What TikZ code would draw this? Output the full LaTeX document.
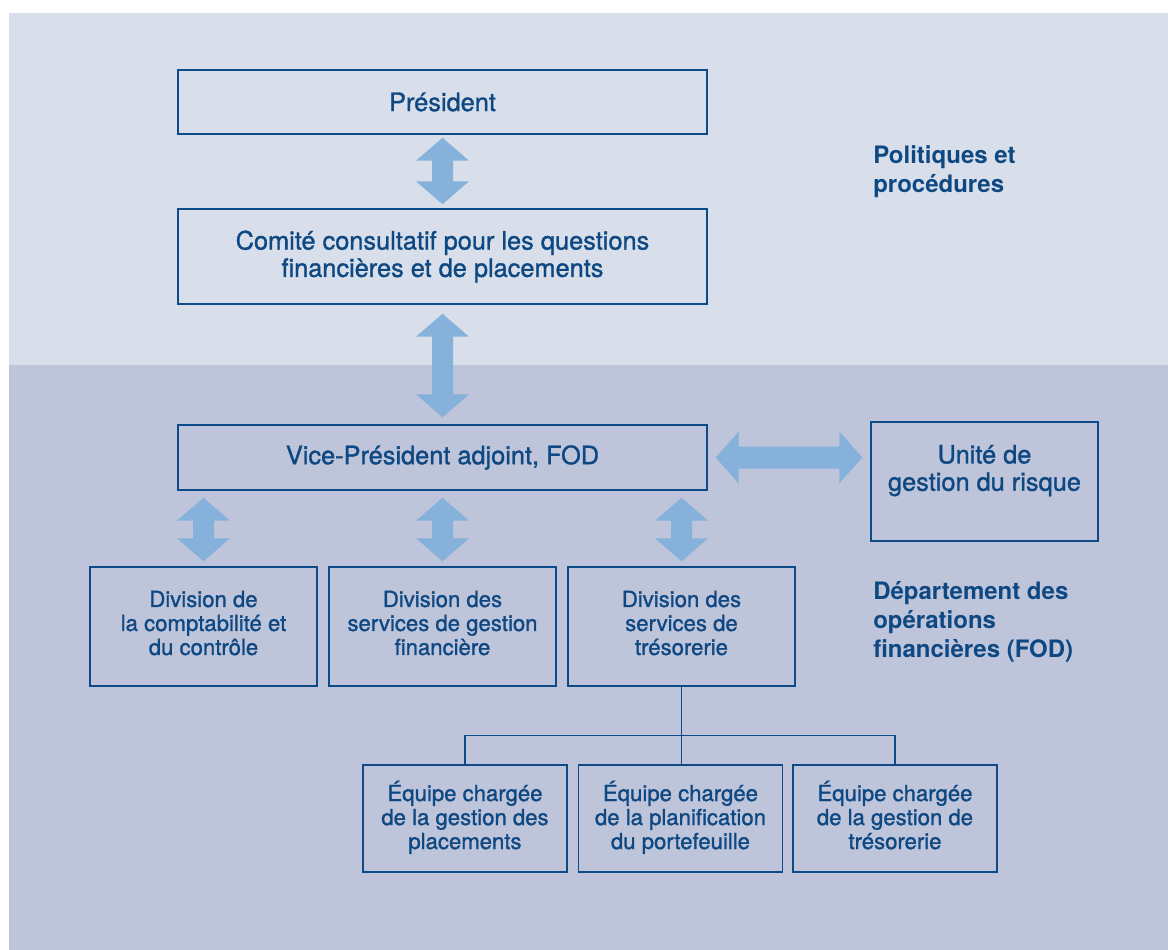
\documentclass[tikz,border=0pt]{standalone}
\usepackage{fontspec}
\setmainfont{TeX Gyre Heros}
\newfontfamily\medfont{TeX Gyre Heros}[FakeBold=1.2]
\usetikzlibrary{calc}
\definecolor{bgtop}{RGB}{217,223,234}
\definecolor{bgbot}{RGB}{190,196,218}
\definecolor{boxline}{RGB}{12,74,136}
\definecolor{txt}{RGB}{14,72,130}
\definecolor{arr}{RGB}{133,177,218}
\newcommand\vdarrow[2]{\fill[arr] (#1) -- ++(26.5,23) -- ++(-16,0) -- ($(#2)+(10.5,-23)$) -- ++(16,0) -- (#2) -- ++(-26.5,-23) -- ++(16,0) -- ($(#1)+(-10.5,23)$) -- ++(-16,0) -- cycle;}
\newcommand\hdarrow[2]{\fill[arr] (#1) -- ++(23,-26) -- ++(0,15) -- ($(#2)+(-23,-11)$) -- ++(0,-15) -- (#2) -- ++(-23,26) -- ++(0,-15) -- ($(#1)+(23,11)$) -- ++(0,15) -- cycle;}
\begin{document}
\begin{tikzpicture}[x=0.75pt,y=-0.75pt,
  box/.style={draw=boxline,line width=1.1pt,text=txt,align=center,inner sep=0pt,
    font=\medfont\fontsize{19}{20.5}\selectfont},
  mainbox/.style={box,minimum width=396.75pt},
  sbox/.style={box,font=\medfont\fontsize{16.6}{18}\selectfont},
  divbox/.style={sbox,minimum width=170.25pt,minimum height=89.25pt},
  teambox/.style={sbox,minimum width=153pt,minimum height=80.25pt},
  label/.style={text=txt,align=left,anchor=west,inner sep=0pt,
    font=\fontsize{18}{21.5}\selectfont\bfseries},
  tree/.style={draw=boxline,line width=0.8pt}]
\useasboundingbox (0,0) rectangle (1168,950);
\fill[bgtop] (9,13) rectangle (1168,365);
\fill[bgbot] (9,365) rectangle (1168,950);

\node[mainbox,minimum height=48pt] (pres) at (442.5,102) {Président};
\node[mainbox,minimum height=71.25pt] (comite) at (442.5,256.5)
  {Comité consultatif pour les questions\\financières et de placements};
\node[mainbox,minimum height=48.75pt] (vp) at (442.5,457.5) {Vice-Président adjoint, FOD};
\node[box,minimum width=170.25pt,minimum height=89.25pt] (unite) at (984.5,481.5)
  {Unité de\\gestion du risque\\\mbox{}};

\node[divbox] (d1) at (203.5,626.5) {Division de\\la comptabilité et\\du contrôle\strut};
\node[divbox] (d2) at (442.5,626.5) {Division des\\services de gestion\\financière\strut};
\node[divbox] (d3) at (681.5,626.5) {Division des\\services de\\trésorerie\strut};

\node[teambox] (t1) at (465,818.5) {Équipe chargée\\de la gestion des\\placements\strut};
\node[teambox] (t2) at (680.5,818.5) {Équipe chargée\\de la planification\\du portefeuille\strut};
\node[teambox] (t3) at (895,818.5) {Équipe chargée\\de la gestion de\\trésorerie\strut};

\node[label] (pol) at (873,171.5) {Politiques et\\procédures};
\node[label] (dep) at (873,622) {Département des\\opérations\\financières (FOD)};

% arrows
\coordinate (a1t) at ($(pres.south)+(0,3)$);
\coordinate (a1b) at ($(comite.north)+(0,-4)$);
\vdarrow{a1t}{a1b}
\coordinate (a2t) at ($(comite.south)+(0,9)$);
\coordinate (a2b) at ($(vp.north)+(0,-7)$);
\vdarrow{a2t}{a2b}
\coordinate (a3t) at ($(vp.south -| d1.north)+(0,7)$);
\coordinate (a3b) at ($(d1.north)+(0,-5)$);
\vdarrow{a3t}{a3b}
\coordinate (a4t) at ($(vp.south -| d2.north)+(0,7)$);
\coordinate (a4b) at ($(d2.north)+(0,-5)$);
\vdarrow{a4t}{a4b}
\coordinate (a5t) at ($(vp.south -| d3.north)+(0,7)$);
\coordinate (a5b) at ($(d3.north)+(0,-5)$);
\vdarrow{a5t}{a5b}
\coordinate (hl) at ($(vp.east)+(8,0)$);
\coordinate (hr) at ($(vp.east -| unite.west)+(-8,0)$);
\hdarrow{hl}{hr}

% tree
\coordinate (hub) at ($(d3.south)+(0,49)$);
\draw[tree] (d3.south) -- (hub);
\draw[tree] (t1.north) |- (hub) -| (t3.north);
\draw[tree] (hub) -- (hub |- t2.north);
\end{tikzpicture}
\end{document}
